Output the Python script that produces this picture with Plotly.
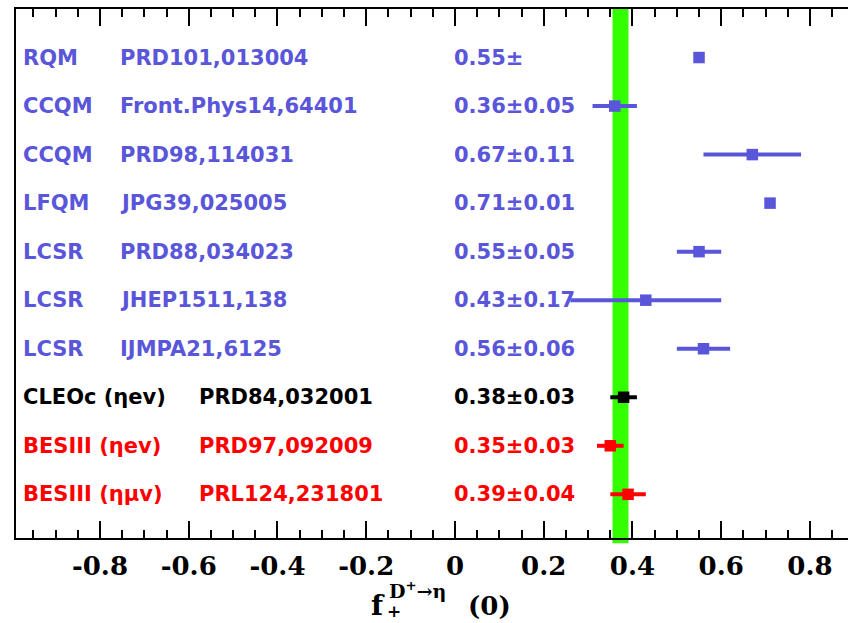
import plotly.graph_objects as go

# ---- data (top row first) ----
methods = ["RQM", "CCQM", "CCQM", "LFQM", "LCSR", "LCSR", "LCSR",
           "CLEOc (ηev)", "BESIII (ηev)", "BESIII (ημv)"]
refs = ["PRD101,013004", "Front.Phys14,64401", "PRD98,114031", "JPG39,025005",
        "PRD88,034023", "JHEP1511,138", "IJMPA21,6125",
        "PRD84,032001", "PRD97,092009", "PRL124,231801"]
values = [0.55, 0.36, 0.67, 0.71, 0.55, 0.43, 0.56, 0.38, 0.35, 0.39]
errors = [0.0, 0.05, 0.11, 0.01, 0.05, 0.17, 0.06, 0.03, 0.03, 0.04]
value_texts = ["0.55±", "0.36±0.05", "0.67±0.11", "0.71±0.01", "0.55±0.05",
               "0.43±0.17", "0.56±0.06", "0.38±0.03", "0.35±0.03", "0.39±0.04"]
groups = ["theory"] * 7 + ["cleo"] + ["bes"] * 2
band_low, band_high = 0.355, 0.391
tick_vals = [-0.8, -0.6, -0.4, -0.2, 0, 0.2, 0.4, 0.6, 0.8]
tick_text = ["-0.8", "-0.6", "-0.4", "-0.2", "0", "0.2", "0.4", "0.6", "0.8"]

colors = {"theory": "#5a56da", "cleo": "#000000", "bes": "#ff0000"}
n = len(methods)
ypos = [n - i for i in range(n)]

fig = go.Figure()

fig.add_shape(type="rect", xref="x", yref="paper", x0=band_low, x1=band_high,
              y0=-0.01, y1=1, fillcolor="#33ff00", line_width=0, layer="below")

for g in ["theory", "cleo", "bes"]:
    idx = [i for i in range(n) if groups[i] == g]
    fig.add_trace(go.Scatter(
        x=[values[i] for i in idx], y=[ypos[i] for i in idx],
        mode="markers",
        marker=dict(symbol="square", size=11.5, color=colors[g]),
        error_x=dict(type="data", array=[errors[i] for i in idx],
                     thickness=4, width=0, color=colors[g]),
        showlegend=False, hoverinfo="skip"))

font_row = dict(family="DejaVu Sans", size=21, weight="bold")
for i in range(n):
    c = colors[groups[i]]
    x2 = -0.760 if groups[i] == "theory" else -0.582
    fig.add_annotation(x=-0.977, y=ypos[i], xref="x", yref="y", text=methods[i],
                       showarrow=False, xanchor="left", yanchor="middle",
                       font=dict(color=c, **font_row))
    fig.add_annotation(x=x2, y=ypos[i], xref="x", yref="y", text=refs[i],
                       showarrow=False, xanchor="left", yanchor="middle",
                       font=dict(color=c, **font_row))
    fig.add_annotation(x=-0.006, y=ypos[i], xref="x", yref="y", text=value_texts[i],
                       showarrow=False, xanchor="left", yanchor="middle",
                       font=dict(color=c, **font_row))

# axis title pieces f_+^{D+ -> eta}(0)
W, H, L, B, T = 848, 623, 16, 85, 9
ph = H - B - T
pw = W - L


def px(x):
    return (x - L) / pw


def py(y):
    return (H - B - y) / ph


serif = "DejaVu Serif"
fig.add_annotation(x=px(369), y=py(605), xref="paper", yref="paper", text="f",
                   showarrow=False, xanchor="left", yanchor="middle",
                   font=dict(family=serif, size=28, weight="bold", color="black"))
fig.add_annotation(x=px(388), y=py(590), xref="paper", yref="paper", text="D<sup>+</sup>→η",
                   showarrow=False, xanchor="left", yanchor="middle", borderpad=0,
                   font=dict(family=serif, size=19, weight="bold", color="black"))
fig.add_annotation(x=px(385), y=py(611), xref="paper", yref="paper", text="+",
                   showarrow=False, xanchor="left", yanchor="middle",
                   font=dict(family=serif, size=17, weight="bold", color="black"))
fig.add_annotation(x=px(466), y=py(606), xref="paper", yref="paper", text="(0)",
                   showarrow=False, xanchor="left", yanchor="middle",
                   font=dict(family=serif, size=26, weight="bold", color="black"))

fig.update_xaxes(range=[-0.9893, 0.8857], tickvals=tick_vals, ticktext=tick_text,
                 ticks="inside", ticklen=17, tickwidth=2, tickcolor="black",
                 showline=True, linewidth=2, linecolor="black", mirror="ticks",
                 minor=dict(dtick=0.05, tick0=0, ticks="inside", ticklen=8,
                            tickwidth=2, tickcolor="black"),
                 showgrid=False, zeroline=False, ticklabelstandoff=4,
                 tickfont=dict(family=serif, size=26, weight="bold", color="black"))
fig.update_yaxes(range=[0.1, n + 1], showticklabels=False, showgrid=False,
                 zeroline=False, showline=True, linewidth=2, linecolor="black",
                 ticks="")

fig.update_layout(width=W, height=H, margin=dict(l=L, r=0, t=T, b=B),
                  plot_bgcolor="white", paper_bgcolor="white")

fig.write_html("out.html")
